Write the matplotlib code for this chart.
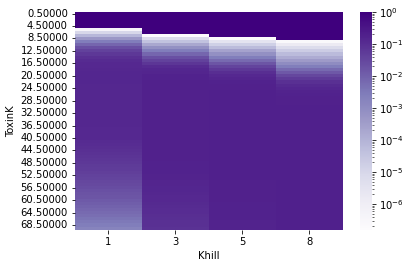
import matplotlib

matplotlib.use("Agg")
import matplotlib.pyplot as plt
import numpy as np
import pandas as pd
import seaborn as sns
from matplotlib.colors import LogNorm

# categories
toxin_k = np.arange(0.5, 70.0, 1.0)
khill = [1, 3, 5, 8]

# log10 of the fraction (rows 0.5 .. 69.5)
log_k1 = [
    0, 0, 0, 0, 0,
    -6.4, -5.0, -4.1, -3.3, -2.6, -2.1, -1.7, -1.4, -1.2, -1.05,
    -0.95, -0.90, -0.88, -0.86, -0.85, -0.85, -0.85, -0.85, -0.86, -0.86,
    -0.86, -0.86, -0.86, -0.86, -0.86, -0.86, -0.87, -0.87, -0.87, -0.87,
    -0.87, -0.87, -0.88, -0.88, -0.89,
    -0.90, -0.93, -0.96, -1.00, -1.04, -1.08, -1.12, -1.16, -1.20, -1.25,
    -1.30, -1.35, -1.40, -1.45, -1.50, -1.56, -1.62, -1.68, -1.74, -1.80,
    -1.87, -1.94, -2.02, -2.10, -2.19, -2.28, -2.38, -2.48, -2.60, -2.75,
]
log_k3 = [
    0, 0, 0, 0, 0, 0, 0,
    -6.8, -5.2, -4.4, -3.7, -3.1, -2.6, -2.1, -1.7, -1.4, -1.15,
    -0.95, -0.85, -0.80, -0.77, -0.75, -0.74, -0.73, -0.73, -0.72, -0.72,
    -0.72, -0.72, -0.72, -0.72, -0.72, -0.72, -0.72, -0.72, -0.72, -0.72,
    -0.72, -0.72, -0.72, -0.72, -0.72, -0.73, -0.73, -0.73, -0.73, -0.74,
    -0.74, -0.75, -0.75, -0.76, -0.77, -0.78, -0.79, -0.80, -0.81, -0.83,
    -0.84, -0.86, -0.88, -0.90, -0.92, -0.94, -0.96, -0.98, -1.00, -1.02,
    -1.04, -1.06, -1.08,
]
log_k5 = [
    0, 0, 0, 0, 0, 0, 0, 0,
    -6.7, -5.5, -4.8, -4.2, -3.6, -3.1, -2.6, -2.2, -1.8, -1.45, -1.2,
    -1.0, -0.88, -0.80, -0.76, -0.74, -0.72, -0.71, -0.70, -0.70, -0.70,
    -0.70, -0.70, -0.70, -0.70, -0.70, -0.70, -0.70, -0.70, -0.70, -0.70,
    -0.70, -0.70, -0.70, -0.70, -0.70, -0.70, -0.70, -0.70, -0.70, -0.70,
    -0.70, -0.71, -0.71, -0.71, -0.71, -0.72, -0.72, -0.72, -0.73, -0.73,
    -0.74, -0.74, -0.75, -0.75, -0.76, -0.76, -0.77, -0.77, -0.78, -0.78,
    -0.79,
]
log_k8 = [
    0, 0, 0, 0, 0, 0, 0, 0, 0,
    -6.6, -5.8, -5.2, -4.7, -4.2, -3.8, -3.4, -3.0, -2.6, -2.2, -1.85,
    -1.5, -1.25,
    -1.05, -0.92, -0.84, -0.79, -0.76, -0.74, -0.73, -0.72, -0.71, -0.71,
    -0.70, -0.70, -0.70, -0.70, -0.70, -0.70, -0.70, -0.70, -0.70, -0.70,
    -0.70, -0.70, -0.70, -0.70, -0.70, -0.70, -0.70, -0.70, -0.70, -0.70,
    -0.70, -0.70, -0.70, -0.70, -0.70, -0.70, -0.70, -0.70, -0.70, -0.70,
    -0.70, -0.70, -0.70, -0.70, -0.70, -0.70, -0.70, -0.70,
]

df = pd.DataFrame(
    {k: 10.0 ** np.array(v) for k, v in zip(khill, [log_k1, log_k3, log_k5, log_k8])},
    index=[f"{t:.5f}" for t in toxin_k],
)
df.index.name = "ToxinK"
df.columns.name = "Khill"

fig = plt.figure(figsize=(409 / 72, 268 / 72), dpi=72)
ax = fig.add_axes([0.183, 0.143, 0.655, 0.812])
cax = fig.add_axes([0.880, 0.143, 0.029, 0.812])

sns.heatmap(
    df,
    cmap="Purples",
    norm=LogNorm(vmin=df.values.min(), vmax=1.0),
    yticklabels=4,
    ax=ax,
    cbar_ax=cax,
)
ax.tick_params(labelsize=10)
cax.tick_params(labelsize=10)
ax.set_xlabel("Khill", fontsize=10)
ax.set_ylabel("ToxinK", fontsize=10)
plt.setp(ax.get_yticklabels(), rotation=0)

fig.savefig("out.png", dpi=72)
